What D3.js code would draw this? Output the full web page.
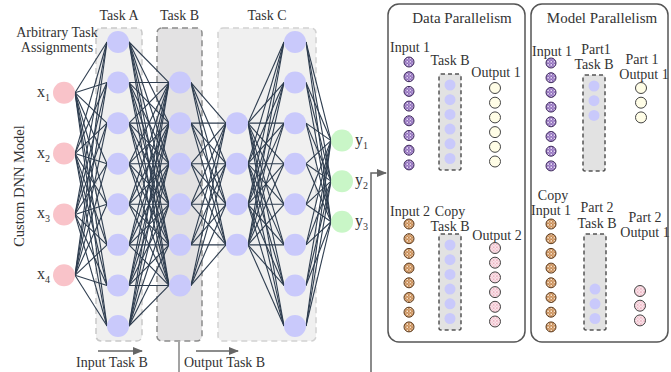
<!DOCTYPE html>
<html>
<head>
<meta charset="utf-8">
<script src="https://d3js.org/d3.v7.min.js"></script>
<style>
  body { margin: 0; background: #fff; }
  svg text { font-family: "Liberation Serif", "Times New Roman", "DejaVu Serif", serif; fill: #333; }
</style>
</head>
<body>
<div class="wrapper"></div>
<script>
// network description
var layerNames = ["Input", "Task A", "Task B", "Task C1", "Task C2", "Output"];
var layerSizes = [4, 8, 6, 4, 8, 3];
var inputLabels = ["1", "2", "3", "4"];
var outputLabels = ["1", "2", "3"];
var taskLabels = ["Task A", "Task B", "Task C"];

// parallelism panels
var panelTitles = ["Data Parallelism", "Model Parallelism"];
var inputCount = 8;
var taskBNodes = [0, 1, 2, 3, 4, 5];
var outputCount = 6;
var part1Nodes = [0, 1, 2];
var part2Nodes = [3, 4, 5];

var width = 671, height = 372;
var FONT = "'Liberation Serif', 'Times New Roman', 'DejaVu Serif', serif";

var svg = d3.select(".wrapper").append("svg")
  .attr("width", width).attr("height", height)
  .attr("font-family", FONT);

var defs = svg.append("defs");
defs.append("marker").attr("id", "arr")
  .attr("viewBox", "0 0 10 10").attr("refX", 9).attr("refY", 5)
  .attr("markerWidth", 7).attr("markerHeight", 7).attr("orient", "auto")
  .append("path").attr("d", "M0,1 L10,5 L0,9 Z").attr("fill", "#666");

// speckled fills for the input samples
function speckle(id, bg, dot) {
  var p = defs.append("pattern").attr("id", id).attr("patternUnits", "userSpaceOnUse")
    .attr("width", 3.2).attr("height", 3.2);
  p.append("rect").attr("width", 3.2).attr("height", 3.2).attr("fill", bg);
  p.append("circle").attr("cx", 0.9).attr("cy", 0.9).attr("r", 0.8).attr("fill", dot);
  p.append("circle").attr("cx", 2.5).attr("cy", 2.4).attr("r", 0.6).attr("fill", dot);
}
speckle("purp", "#8a66b8", "#f3ecfb");
speckle("orng", "#c4854c", "#fff1df");
speckle("pink", "#fbe6ec", "#eaa9b9");

// ---- left network ----
var layerX = [64, 118, 180, 237, 295, 342];
var nodeR = 11;
var y = d3.scaleLinear().domain([-3.5, 3.5]).range([42, 326]);
var stepOf = function(l) { return l === 0 ? 1.5 : 1; };

var layers = layerSizes.map(function(n, l) {
  var off = l === 5 ? -0.07 : 0;
  return d3.range(n).map(function(i) {
    return { l: l, i: i, x: layerX[l], y: y((i - (n - 1) / 2) * stepOf(l) + off) };
  });
});

// task boxes
var boxes = [
  { x0: 96, x1: 142, fill: "#efefef", stroke: "#c9c9c9" },
  { x0: 157, x1: 202, fill: "#e3e2e3", stroke: "#8c8c8c" },
  { x0: 218, x1: 316, fill: "#f0f0f0", stroke: "#d2d2d2" }
];
svg.selectAll(".tbox").data(boxes).enter().append("rect")
  .attr("x", function(d) { return d.x0; }).attr("y", 28)
  .attr("width", function(d) { return d.x1 - d.x0; }).attr("height", 313)
  .attr("rx", 5)
  .attr("fill", function(d) { return d.fill; })
  .attr("stroke", function(d) { return d.stroke; })
  .attr("stroke-width", 1.5).attr("stroke-dasharray", "6,4");

svg.selectAll(".tlab").data(taskLabels).enter().append("text")
  .attr("x", function(d, i) { return (boxes[i].x0 + boxes[i].x1) / 2; })
  .attr("y", 20).attr("text-anchor", "middle").attr("font-size", 14)
  .text(function(d) { return d; });

// edges
var edges = [];
for (var l = 0; l < layers.length - 1; l++) {
  layers[l].forEach(function(a) {
    layers[l + 1].forEach(function(b) { edges.push([a, b]); });
  });
}
svg.append("g").selectAll("line").data(edges).enter().append("line")
  .attr("x1", function(d) { return d[0].x + nodeR; }).attr("y1", function(d) { return d[0].y; })
  .attr("x2", function(d) { return d[1].x - nodeR; }).attr("y2", function(d) { return d[1].y; })
  .attr("stroke", "#2e3d4f").attr("stroke-width", 1.1);

var nodeFill = function(l) { return l === 0 ? "#f9c3c9" : (l === 5 ? "#c9f6c7" : "#c9c9fb"); };
svg.append("g").selectAll("circle").data(d3.merge(layers)).enter().append("circle")
  .attr("cx", function(d) { return d.x; }).attr("cy", function(d) { return d.y; })
  .attr("r", nodeR).attr("fill", function(d) { return nodeFill(d.l); });

// x / y labels with subscripts
function subLabel(base, subs, nodes, x, anchor) {
  var t = svg.append("g").selectAll("text").data(subs).enter().append("text")
    .attr("x", x).attr("y", function(d, i) { return nodes[i].y + 4; })
    .attr("font-size", 16).attr("text-anchor", anchor);
  t.append("tspan").text(base);
  t.append("tspan").attr("font-size", 10).attr("dy", 4).text(function(d) { return d; });
}
subLabel("x", inputLabels, layers[0], 50, "end");
subLabel("y", outputLabels, layers[5], 355, "start");

svg.append("text").attr("x", 57).attr("y", 37).attr("text-anchor", "middle")
  .attr("font-size", 14).text("Arbitrary Task");
svg.append("text").attr("x", 57).attr("y", 52).attr("text-anchor", "middle")
  .attr("font-size", 14).text("Assignments");
svg.append("text").attr("transform", "translate(24,186) rotate(-90)")
  .attr("text-anchor", "middle").attr("font-size", 14.5).text("Custom DNN Model");

// bottom arrows
svg.append("line").attr("x1", 98).attr("y1", 351).attr("x2", 142).attr("y2", 351)
  .attr("stroke", "#666").attr("stroke-width", 1.5).attr("marker-end", "url(#arr)");
svg.append("text").attr("x", 112).attr("y", 367).attr("text-anchor", "middle")
  .attr("font-size", 14).text("Input Task B");
svg.append("line").attr("x1", 179).attr("y1", 342).attr("x2", 179).attr("y2", 372)
  .attr("stroke", "#666").attr("stroke-width", 1.2);
svg.append("line").attr("x1", 196).attr("y1", 351).attr("x2", 238).attr("y2", 351)
  .attr("stroke", "#666").attr("stroke-width", 1.5).attr("marker-end", "url(#arr)");
svg.append("text").attr("x", 184).attr("y", 367).attr("font-size", 14).text("Output Task B");
svg.append("path").attr("d", "M371,372 V173 H386")
  .attr("fill", "none").attr("stroke", "#666").attr("stroke-width", 1.5)
  .attr("marker-end", "url(#arr)");

// ---- parallelism panels ----
var panels = [{ x0: 388, x1: 525 }, { x0: 531, x1: 668 }];
svg.selectAll(".panel").data(panels).enter().append("rect")
  .attr("x", function(d) { return d.x0; }).attr("y", 4)
  .attr("width", function(d) { return d.x1 - d.x0; }).attr("height", 338)
  .attr("rx", 11).attr("fill", "#fff").attr("stroke", "#555").attr("stroke-width", 1.5);
svg.selectAll(".ptitle").data(panelTitles).enter().append("text")
  .attr("x", function(d, i) { return i === 0 ? 462 : 602; }).attr("y", 23)
  .attr("text-anchor", "middle").attr("font-size", 15).text(function(d) { return d; });

var sy = d3.scaleLinear().domain([0, 1]).range([0, 14.7]);

function samples(cx, top, n, fill, stroke) {
  svg.append("g").selectAll("circle").data(d3.range(n)).enter().append("circle")
    .attr("cx", cx).attr("cy", function(d) { return top + sy(d); })
    .attr("r", 5).attr("fill", "url(#" + fill + ")").attr("stroke", stroke).attr("stroke-width", 1);
}
function taskBox(cx, top, nodes) {
  svg.append("rect").attr("x", cx - 11).attr("y", top).attr("width", 22).attr("height", 96)
    .attr("rx", 2).attr("fill", "#e2e2e2").attr("stroke", "#555")
    .attr("stroke-width", 1.5).attr("stroke-dasharray", "4,3");
  svg.append("g").selectAll("circle").data(nodes).enter().append("circle")
    .attr("cx", cx).attr("cy", function(d) { return top + 11 + sy(d); })
    .attr("r", 5.5).attr("fill", "#c9c9fb");
}
function outputs(cx, top, n, fill) {
  svg.append("g").selectAll("circle").data(d3.range(n)).enter().append("circle")
    .attr("cx", cx).attr("cy", function(d) { return top + sy(d); })
    .attr("r", 5.5).attr("fill", fill).attr("stroke", "#444").attr("stroke-width", 1);
}
function label(x, yy, s) {
  svg.append("text").attr("x", x).attr("y", yy).attr("text-anchor", "middle")
    .attr("font-size", 14).text(s);
}

// data parallelism
label(410, 52, "Input 1"); samples(409, 62, inputCount, "purp", "#3e2a5c");
label(450, 65, "Task B"); taskBox(450, 74, taskBNodes);
label(496, 77, "Output 1"); outputs(495, 88, outputCount, "#fffde6");
label(410, 216, "Input 2"); label(450, 216, "Copy"); samples(409, 224, inputCount, "orng", "#5a3a1e");
label(450, 231, "Task B"); taskBox(450, 234, taskBNodes);
label(497, 240, "Output 2"); outputs(495, 248, outputCount, "url(#pink)");

// model parallelism
label(552, 56, "Input 1"); samples(551, 63, inputCount, "purp", "#3e2a5c");
label(596, 54, "Part1"); label(594, 69, "Task B"); taskBox(594, 75, part1Nodes);
label(642, 64, "Part 1"); label(644, 79, "Output 1"); outputs(641, 88, part1Nodes.length, "#fffde6");
label(553, 200, "Copy"); label(551, 215, "Input 1"); samples(551, 224, inputCount, "orng", "#5a3a1e");
label(597, 212, "Part 2"); label(597, 228, "Task B"); taskBox(595, 234, part2Nodes);
label(645, 222, "Part 2"); label(645, 237, "Output 1"); outputs(640, 291, part2Nodes.length, "url(#pink)");
</script>
</body>
</html>
